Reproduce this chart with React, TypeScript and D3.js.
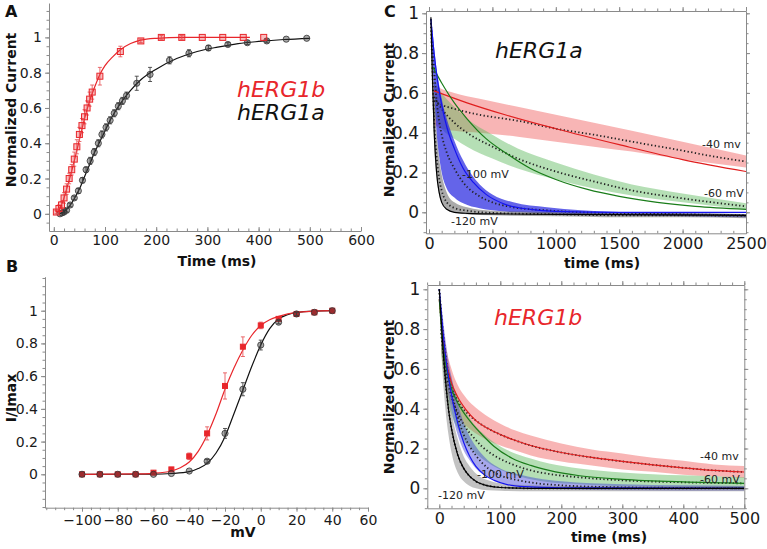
import React, { useEffect, useRef } from "react";
import * as d3 from "d3";

// ---------- Panel A: activation time course ----------
const aTicksX = [0, 100, 200, 300, 400, 500, 600];
const aTicksY = [0, 0.2, 0.4, 0.6, 0.8, 1];

// hERG1b (red squares)
const aRedT = [5, 10, 15, 20, 25, 30, 35, 40, 45, 50, 55, 60, 65, 70, 75, 90, 130, 170, 210, 250, 290, 330, 370, 410];
const aRedV = [0.01, 0.03, 0.05, 0.09, 0.14, 0.2, 0.25, 0.31, 0.38, 0.45, 0.5, 0.55, 0.6, 0.65, 0.69, 0.78, 0.92, 0.98, 1.0, 1.0, 1.0, 1.0, 1.0, 1.0];
const aRedE = [0.01, 0.02, 0.02, 0.03, 0.03, 0.03, 0.03, 0.04, 0.04, 0.04, 0.04, 0.04, 0.04, 0.04, 0.04, 0.05, 0.03, 0.01, 0.01, 0.01, 0.005, 0.005, 0.005, 0.005];
const aRedFitT = [5, 10, 15, 20, 25, 30, 40, 50, 60, 70, 80, 90, 100, 115, 130, 150, 170, 200, 250, 300, 383];
const aRedFitV = [0.005, 0.02, 0.05, 0.09, 0.14, 0.19, 0.3, 0.42, 0.54, 0.64, 0.72, 0.79, 0.84, 0.89, 0.93, 0.965, 0.985, 0.995, 1, 1, 1];

// hERG1a (grey circles)
const aBlkT = [12, 16, 20, 25, 32, 40, 48, 56, 63, 71, 79, 87, 94, 102, 110, 118, 126, 134, 142, 162, 188, 226, 264, 302, 340, 378, 416, 454, 494];
const aBlkV = [0, 0.005, 0.01, 0.02, 0.05, 0.09, 0.13, 0.19, 0.25, 0.3, 0.35, 0.4, 0.45, 0.49, 0.53, 0.57, 0.61, 0.64, 0.67, 0.74, 0.79, 0.87, 0.91, 0.94, 0.96, 0.97, 0.98, 0.99, 0.995];
const aBlkE = [0.005, 0.005, 0.01, 0.01, 0.01, 0.01, 0.015, 0.015, 0.015, 0.02, 0.02, 0.02, 0.02, 0.02, 0.02, 0.02, 0.02, 0.02, 0.02, 0.04, 0.04, 0.02, 0.02, 0.015, 0.01, 0.01, 0.01, 0.005, 0.005];
const aBlkFitT = [10, 20, 30, 40, 50, 60, 70, 80, 90, 100, 110, 120, 135, 150, 170, 200, 240, 280, 320, 360, 400, 450, 500];
const aBlkFitV = [0, 0.012, 0.04, 0.085, 0.14, 0.21, 0.28, 0.35, 0.41, 0.47, 0.53, 0.58, 0.645, 0.7, 0.76, 0.82, 0.88, 0.92, 0.945, 0.965, 0.977, 0.988, 0.995];

// ---------- Panel B: steady-state activation ----------
const bTicksX = [-100, -80, -60, -40, -20, 0, 20, 40, 60];
const bTicksY = [0, 0.2, 0.4, 0.6, 0.8, 1];
const bMV = [-100, -90, -80, -70, -60, -50, -40, -30, -20, -10, 0, 10, 20, 30, 40];
const bRed = [0, 0, 0, 0, 0.01, 0.03, 0.11, 0.25, 0.54, 0.78, 0.91, 0.95, 0.98, 0.99, 1.0];
const bRedE = [0, 0, 0, 0, 0.01, 0.01, 0.02, 0.04, 0.08, 0.06, 0.02, 0.01, 0.01, 0, 0];
const bBlk = [0, 0, 0, 0, 0, 0.005, 0.02, 0.08, 0.25, 0.52, 0.79, 0.93, 0.98, 0.99, 1.0];
const bBlkE = [0, 0, 0, 0, 0, 0, 0, 0.01, 0.03, 0.04, 0.03, 0.01, 0.01, 0, 0];
const bRedFitX = [-100, -70, -60, -50, -45, -40, -35, -30, -25, -20, -15, -10, -5, 0, 5, 10, 20, 30, 40];
const bRedFitY = [0, 0.002, 0.006, 0.02, 0.04, 0.075, 0.14, 0.24, 0.37, 0.52, 0.65, 0.76, 0.85, 0.91, 0.945, 0.965, 0.99, 0.997, 1];
const bBlkFitX = [-100, -60, -50, -40, -35, -30, -25, -20, -15, -10, -5, 0, 5, 10, 15, 20, 30, 40];
const bBlkFitY = [0, 0.001, 0.005, 0.016, 0.035, 0.067, 0.13, 0.23, 0.37, 0.515, 0.66, 0.79, 0.89, 0.95, 0.975, 0.99, 0.998, 1];

// ---------- Panel C (top): hERG1a deactivation ----------
const c1TicksX = [0, 500, 1000, 1500, 2000, 2500];
const cTicksY = [0, 0.2, 0.4, 0.6, 0.8, 1];

const c1RedT = [40, 100, 200, 400, 700, 1000, 1300, 1600, 2000, 2250, 2500];
const c1RedHi = [0.64, 0.62, 0.6, 0.57, 0.53, 0.49, 0.45, 0.41, 0.355, 0.32, 0.285];
const c1RedLo = [0.44, 0.42, 0.41, 0.4, 0.38, 0.355, 0.33, 0.305, 0.265, 0.245, 0.225];
const c1RedMean = [0.56, 0.54, 0.52, 0.49, 0.46, 0.42, 0.39, 0.355, 0.31, 0.28, 0.255];
const c1RedFitT = [40, 300, 600, 1000, 1500, 2000, 2500];
const c1RedFit = [0.61, 0.55, 0.49, 0.42, 0.34, 0.265, 0.205];

const c1GrnT = [40, 100, 200, 300, 500, 700, 1000, 1300, 1600, 2000, 2500];
const c1GrnHi = [0.66, 0.6, 0.53, 0.47, 0.39, 0.32, 0.25, 0.19, 0.14, 0.095, 0.045];
const c1GrnLo = [0.48, 0.42, 0.37, 0.33, 0.27, 0.22, 0.165, 0.12, 0.085, 0.05, 0.015];
const c1GrnMean = [0.58, 0.52, 0.45, 0.4, 0.33, 0.27, 0.205, 0.155, 0.11, 0.07, 0.03];
const c1GrnFitT = [30, 100, 200, 300, 450, 600, 800, 1000, 1250, 1500, 1800, 2100, 2500];
const c1GrnFit = [0.73, 0.65, 0.55, 0.47, 0.37, 0.3, 0.22, 0.165, 0.115, 0.08, 0.05, 0.03, 0.015];

const c1BluT = [15, 30, 45, 60, 80, 100, 140, 200, 270, 400, 500, 665, 930, 1200, 1600, 2000, 2500];
const c1BluHi = [0.98, 0.9, 0.8, 0.72, 0.64, 0.57, 0.47, 0.36, 0.26, 0.14, 0.09, 0.05, 0.025, 0.01, 0.0, -0.005, -0.01];
const c1BluLo = [0.92, 0.72, 0.55, 0.4, 0.28, 0.2, 0.12, 0.075, 0.045, 0.02, 0.01, 0.0, -0.005, -0.01, -0.015, -0.02, -0.025];
const c1BluMean = [0.95, 0.82, 0.68, 0.56, 0.46, 0.39, 0.3, 0.22, 0.15, 0.08, 0.05, 0.025, 0.01, 0.0, -0.005, -0.01, -0.015];
const c1BluFitT = [15, 40, 70, 100, 140, 200, 270, 350, 450, 600, 800, 1000, 1500, 2500];
const c1BluFit = [0.97, 0.8, 0.65, 0.54, 0.43, 0.32, 0.22, 0.15, 0.09, 0.04, 0.015, 0.005, 0, 0];

const c1GryT = [15, 25, 40, 60, 80, 100, 140, 200, 300, 500, 1000, 1500, 2000, 2500];
const c1GryHi = [1.0, 0.85, 0.6, 0.4, 0.27, 0.19, 0.1, 0.05, 0.025, 0.008, 0.0, -0.005, -0.005, -0.008];
const c1GryLo = [0.95, 0.65, 0.35, 0.17, 0.09, 0.05, 0.015, 0.0, -0.01, -0.015, -0.02, -0.025, -0.025, -0.03];
const c1GryMean = [0.97, 0.75, 0.47, 0.28, 0.17, 0.11, 0.05, 0.022, 0.008, -0.003, -0.01, -0.015, -0.015, -0.018];
const c1BlkFitT = [15, 25, 40, 60, 80, 100, 140, 200, 300, 500, 1000, 2500];
const c1BlkFit = [0.98, 0.72, 0.42, 0.2, 0.1, 0.05, 0.015, 0, -0.005, -0.008, -0.01, -0.015];

// ---------- Panel C (bottom): hERG1b deactivation ----------
const c2TicksX = [0, 100, 200, 300, 400, 500];

const c2RedT = [3, 10, 20, 30, 45, 60, 80, 100, 125, 150, 200, 250, 300, 350, 400, 450, 500];
const c2RedMean = [0.8, 0.63, 0.51, 0.44, 0.38, 0.34, 0.3, 0.27, 0.24, 0.215, 0.18, 0.155, 0.135, 0.118, 0.103, 0.09, 0.082];
const c2RedHi = [0.9, 0.73, 0.6, 0.52, 0.45, 0.405, 0.36, 0.325, 0.29, 0.265, 0.225, 0.195, 0.175, 0.153, 0.138, 0.12, 0.112];
const c2RedLo = [0.7, 0.53, 0.42, 0.36, 0.31, 0.275, 0.24, 0.215, 0.19, 0.165, 0.135, 0.115, 0.095, 0.083, 0.068, 0.06, 0.052];
const c2RedFitT = [0, 5, 10, 20, 30, 45, 60, 80, 100, 125, 150, 200, 250, 300, 350, 400, 450, 500];
const c2RedFit = [0.95, 0.78, 0.66, 0.53, 0.46, 0.39, 0.34, 0.3, 0.27, 0.24, 0.215, 0.18, 0.155, 0.135, 0.118, 0.103, 0.09, 0.082];

const c2GrnT = [3, 10, 20, 30, 40, 55, 70, 90, 120, 150, 180, 230, 300, 400, 500];
const c2GrnMean = [0.78, 0.6, 0.46, 0.38, 0.32, 0.26, 0.21, 0.165, 0.12, 0.09, 0.072, 0.055, 0.04, 0.03, 0.025];
const c2GrnHi = [0.88, 0.7, 0.55, 0.46, 0.4, 0.33, 0.28, 0.23, 0.18, 0.15, 0.125, 0.1, 0.08, 0.065, 0.055];
const c2GrnLo = [0.68, 0.5, 0.37, 0.3, 0.24, 0.19, 0.15, 0.11, 0.07, 0.045, 0.03, 0.02, 0.01, 0.005, 0.0];
const c2GrnFitT = [0, 5, 10, 20, 30, 40, 55, 70, 90, 120, 150, 180, 230, 300, 400, 500];
const c2GrnFit = [0.95, 0.75, 0.63, 0.5, 0.43, 0.38, 0.32, 0.27, 0.21, 0.15, 0.115, 0.09, 0.063, 0.045, 0.032, 0.025];

const c2BluT = [0, 5, 10, 15, 20, 30, 40, 50, 60, 80, 100, 130, 160, 200, 300, 400, 500];
const c2BluMean = [1, 0.82, 0.68, 0.57, 0.49, 0.36, 0.27, 0.21, 0.165, 0.1, 0.065, 0.04, 0.025, 0.015, 0.005, 0.002, 0];
const c2BluHi = [1, 0.88, 0.75, 0.64, 0.56, 0.43, 0.33, 0.26, 0.21, 0.14, 0.1, 0.07, 0.05, 0.035, 0.02, 0.015, 0.012];
const c2BluLo = [0.98, 0.74, 0.58, 0.47, 0.39, 0.27, 0.19, 0.14, 0.1, 0.055, 0.03, 0.012, 0.002, -0.005, -0.01, -0.012, -0.012];
const c2BluFitT = [0, 5, 10, 15, 20, 30, 40, 50, 60, 75, 90, 110, 140, 200, 500];
const c2BluFit = [1, 0.82, 0.67, 0.56, 0.47, 0.33, 0.23, 0.16, 0.11, 0.065, 0.04, 0.02, 0.008, 0.002, 0];

const c2GryT = [0, 5, 10, 15, 20, 30, 40, 50, 60, 80, 100, 150, 200, 300, 500];
const c2GryMean = [1, 0.74, 0.54, 0.4, 0.3, 0.17, 0.1, 0.06, 0.035, 0.013, 0.005, 0, 0, 0, 0];
const c2GryHi = [1, 0.82, 0.63, 0.5, 0.39, 0.25, 0.16, 0.11, 0.075, 0.04, 0.025, 0.015, 0.012, 0.01, 0.01];
const c2GryLo = [0.95, 0.6, 0.4, 0.27, 0.18, 0.08, 0.035, 0.012, 0.0, -0.01, -0.012, -0.015, -0.015, -0.015, -0.015];
const c2BlkFitT = [0, 5, 10, 15, 20, 30, 40, 50, 60, 80, 100, 150, 500];
const c2BlkFit = [1, 0.75, 0.55, 0.4, 0.3, 0.17, 0.1, 0.06, 0.035, 0.012, 0.004, 0, 0];

const FONT = "DejaVu Sans";
const RED = "#e8262b";

// scale calibrated on two ticks, stretched over the pixel extent of the axis
const lin = (d0, d1, r0, r1, lo, hi) => {
  const s = d3.scaleLinear().domain([d0, d1]).range([r0, r1]);
  return d3.scaleLinear().domain([s.invert(lo), s.invert(hi)]).range([lo, hi]);
};

const ax = lin(0, 600, 53.8, 361, 49, 361);
const ay = lin(0, 1, 213.8, 37.4, 231, 3);
const bx = lin(-100, 60, 82, 368, 45, 368);
const by = lin(0, 1, 474.3, 310.7, 507.7, 276.7);
const cx1 = lin(0, 2500, 429, 746, 426, 746);
const cy1 = lin(0, 1, 212.3, 13.3, 233.3, 11);
const cx2 = lin(0, 500, 439.3, 744.3, 427.3, 744.3);
const cy2 = lin(0, 1, 488.3, 289.3, 508.3, 285);

const steps = (a, b, s) => d3.range(a, b + s / 2, s).map(v => +v.toFixed(3));

const Axis = ({ scale, orient, at, major, minor, inner = false, labels = true, fmt = d => String(d), size = 14, len = 4, mlen = 2.5, pad = 3, color = "#8a8a8a" }) => {
  const ref = useRef(null);
  useEffect(() => {
    const g = d3.select(ref.current);
    g.selectAll("*").remove();
    const gen = { left: d3.axisLeft, right: d3.axisRight, top: d3.axisTop, bottom: d3.axisBottom }[orient];
    const k = inner ? -1 : 1;
    g.append("g")
      .call(gen(scale).tickValues(minor).tickSizeInner(k * mlen).tickSizeOuter(0).tickFormat(() => ""))
      .call(s => s.select(".domain").remove());
    const m = g.append("g")
      .call(gen(scale).tickValues(major).tickSizeInner(k * len).tickSizeOuter(0).tickPadding(pad).tickFormat(labels ? fmt : () => ""));
    g.selectAll("line").attr("stroke", color);
    m.select(".domain").attr("stroke", color);
    m.selectAll("text").attr("fill", "#1a1a1a").attr("font-size", size).attr("font-family", FONT);
  });
  const tr = orient === "left" || orient === "right" ? `translate(${at},0)` : `translate(0,${at})`;
  return <g ref={ref} transform={tr} />;
};

const path = (xs, ys, sx, sy) =>
  d3.line().x(d => sx(d)).y((d, i) => sy(ys[i])).curve(d3.curveMonotoneX)(xs);

const band = (xs, lo, hi, sx, sy) =>
  d3.area().x(d => sx(d)).y0((d, i) => sy(lo[i])).y1((d, i) => sy(hi[i])).curve(d3.curveMonotoneX)(xs);

const ErrBars = ({ xs, ys, es, sx, sy, color }) => (
  <g stroke={color} strokeWidth={0.9}>
    {xs.map((x, i) =>
      es[i] > 0.006 ? (
        <g key={i}>
          <line x1={sx(x)} x2={sx(x)} y1={sy(ys[i] - es[i])} y2={sy(ys[i] + es[i])} />
          <line x1={sx(x) - 2} x2={sx(x) + 2} y1={sy(ys[i] - es[i])} y2={sy(ys[i] - es[i])} />
          <line x1={sx(x) - 2} x2={sx(x) + 2} y1={sy(ys[i] + es[i])} y2={sy(ys[i] + es[i])} />
        </g>
      ) : null
    )}
  </g>
);

const Squares = ({ xs, ys, sx, sy, s = 6, fill = "rgba(232,38,43,0.3)" }) => (
  <g stroke={RED} strokeWidth={1} fill={fill}>
    {xs.map((x, i) => (
      <rect key={i} x={sx(x) - s / 2} y={sy(ys[i]) - s / 2} width={s} height={s} />
    ))}
  </g>
);

const Circles = ({ xs, ys, sx, sy, r = 3.1 }) => (
  <g stroke="#333" strokeWidth={0.8} fill="rgba(50,50,50,0.42)">
    {xs.map((x, i) => (
      <circle key={i} cx={sx(x)} cy={sy(ys[i])} r={r} />
    ))}
  </g>
);

const Trace = ({ t, lo, hi, fill, sx, sy }) => <path d={band(t, lo, hi, sx, sy)} fill={fill} stroke="none" />;
const Dots = ({ t, v, sx, sy }) => (
  <path d={path(t, v, sx, sy)} fill="none" stroke="#222" strokeWidth={1.8} strokeDasharray="1.3 2.4" />
);
const Fit = ({ t, v, sx, sy, color }) => <path d={path(t, v, sx, sy)} fill="none" stroke={color} strokeWidth={1.2} />;

const Frame = ({ sx, sy, major, minor, size }) => {
  const [x0, x1] = sx.range();
  const [y0, y1] = sy.range();
  return (
    <g>
      <Axis scale={sy} orient="left" at={x0} major={cTicksY} minor={steps(-0.1, 1, 0.05)} size={17} />
      <Axis scale={sy} orient="right" at={x1} major={cTicksY} minor={steps(-0.1, 1, 0.05)} labels={false} />
      <Axis scale={sx} orient="bottom" at={y0} major={major} minor={minor} inner size={size} pad={4} />
      <Axis scale={sx} orient="top" at={y1} major={major} minor={minor} labels={false} />
    </g>
  );
};

const title = { fontFamily: FONT, fontWeight: "bold", fontSize: 14, fill: "#111" };
const small = { fontFamily: FONT, fontSize: 11, fill: "#222" };

export default function App() {
  const clip1 = [cx1.range(), cy1.range()];
  const clip2 = [cx2.range(), cy2.range()];
  return (
    <svg width={767} height={549} style={{ position: "absolute", left: 0, top: 0, background: "#fff" }}>
      <defs>
        <clipPath id="c1">
          <rect x={clip1[0][0]} y={clip1[1][1]} width={clip1[0][1] - clip1[0][0]} height={clip1[1][0] - clip1[1][1]} />
        </clipPath>
        <clipPath id="c2">
          <rect x={clip2[0][0]} y={clip2[1][1]} width={clip2[0][1] - clip2[0][0]} height={clip2[1][0] - clip2[1][1]} />
        </clipPath>
      </defs>

      {/* panel letters */}
      <text x={5} y={17} style={{ ...title, fontSize: 16 }}>A</text>
      <text x={6} y={272} style={{ ...title, fontSize: 16 }}>B</text>
      <text x={384} y={17} style={{ ...title, fontSize: 16 }}>C</text>

      {/* ---- A ---- */}
      <Axis scale={ay} orient="left" at={49} major={aTicksY} minor={steps(-0.05, 1.15, 0.05)} />
      <Axis scale={ax} orient="bottom" at={231} major={aTicksX} minor={steps(0, 600, 20)} inner pad={4} />
      <path d={path(aBlkFitT, aBlkFitV, ax, ay)} fill="none" stroke="#111" strokeWidth={1.2} />
      <path d={path(aRedFitT, aRedFitV, ax, ay)} fill="none" stroke={RED} strokeWidth={1.2} />
      <ErrBars xs={aBlkT} ys={aBlkV} es={aBlkE} sx={ax} sy={ay} color="#444" />
      <Circles xs={aBlkT} ys={aBlkV} sx={ax} sy={ay} />
      <ErrBars xs={aRedT} ys={aRedV} es={aRedE} sx={ax} sy={ay} color="#e85a5e" />
      <Squares xs={aRedT} ys={aRedV} sx={ax} sy={ay} />
      <text x={237} y={97} style={{ fontFamily: FONT, fontStyle: "italic", fontSize: 22, fill: RED }}>hERG1b</text>
      <text x={237} y={120} style={{ fontFamily: FONT, fontStyle: "italic", fontSize: 22, fill: "#111" }}>hERG1a</text>
      <text transform="translate(16,110) rotate(-90)" textAnchor="middle" style={title}>Normalized Current</text>
      <text x={217} y={266} textAnchor="middle" style={title}>Time (ms)</text>

      {/* ---- B ---- */}
      <Axis scale={by} orient="left" at={45} major={bTicksY} minor={steps(-0.2, 1.2, 0.05)} />
      <Axis scale={bx} orient="bottom" at={507.7} major={bTicksX} minor={steps(-120, 60, 5)} fmt={d3.format("d")} />
      <path d={path(bBlkFitX, bBlkFitY, bx, by)} fill="none" stroke="#111" strokeWidth={1.2} />
      <path d={path(bRedFitX, bRedFitY, bx, by)} fill="none" stroke={RED} strokeWidth={1.2} />
      <ErrBars xs={bMV} ys={bRed} es={bRedE} sx={bx} sy={by} color="#e85a5e" />
      <Squares xs={bMV} ys={bRed} sx={bx} sy={by} s={5} fill={RED} />
      <ErrBars xs={bMV} ys={bBlk} es={bBlkE} sx={bx} sy={by} color="#444" />
      <Circles xs={bMV} ys={bBlk} sx={bx} sy={by} />
      <text transform="translate(16,398) rotate(-90)" textAnchor="middle" style={title}>I/Imax</text>
      <text x={243} y={537} textAnchor="middle" style={title}>mV</text>

      {/* ---- C top: hERG1a ---- */}
      <g clipPath="url(#c1)">
        <Trace t={c1RedT} lo={c1RedLo} hi={c1RedHi} fill="rgba(240,90,90,0.45)" sx={cx1} sy={cy1} />
        <Trace t={c1GrnT} lo={c1GrnLo} hi={c1GrnHi} fill="rgba(90,185,90,0.45)" sx={cx1} sy={cy1} />
        <Trace t={c1BluT} lo={c1BluLo} hi={c1BluHi} fill="rgba(40,40,225,0.72)" sx={cx1} sy={cy1} />
        <Trace t={c1GryT} lo={c1GryLo} hi={c1GryHi} fill="rgba(100,100,100,0.55)" sx={cx1} sy={cy1} />
        <Dots t={c1RedT} v={c1RedMean} sx={cx1} sy={cy1} />
        <Dots t={c1GrnT} v={c1GrnMean} sx={cx1} sy={cy1} />
        <Dots t={c1BluT} v={c1BluMean} sx={cx1} sy={cy1} />
        <Dots t={c1GryT} v={c1GryMean} sx={cx1} sy={cy1} />
        <Fit t={c1RedFitT} v={c1RedFit} sx={cx1} sy={cy1} color="#e01e1e" />
        <Fit t={c1GrnFitT} v={c1GrnFit} sx={cx1} sy={cy1} color="#1a7d1a" />
        <Fit t={c1BluFitT} v={c1BluFit} sx={cx1} sy={cy1} color="#1414f0" />
        <Fit t={c1BlkFitT} v={c1BlkFit} sx={cx1} sy={cy1} color="#000" />
      </g>
      <Frame sx={cx1} sy={cy1} major={c1TicksX} minor={steps(0, 2500, 100)} size={16} />
      <text x={495} y={58} style={{ fontFamily: FONT, fontStyle: "italic", fontSize: 22, fill: "#111" }}>hERG1a</text>
      <text x={702} y={148} style={small}>-40 mv</text>
      <text x={704} y={197} style={small}>-60 mV</text>
      <text x={462} y={178} style={small}>-100 mV</text>
      <text x={451} y={225} style={small}>-120 mV</text>
      <text transform="translate(394,120) rotate(-90)" textAnchor="middle" style={title}>Normalized Current</text>
      <text x={602} y={268} textAnchor="middle" style={title}>time (ms)</text>

      {/* ---- C bottom: hERG1b ---- */}
      <g clipPath="url(#c2)">
        <Trace t={c2RedT} lo={c2RedLo} hi={c2RedHi} fill="rgba(240,90,90,0.45)" sx={cx2} sy={cy2} />
        <Trace t={c2GrnT} lo={c2GrnLo} hi={c2GrnHi} fill="rgba(90,185,90,0.45)" sx={cx2} sy={cy2} />
        <Trace t={c2BluT} lo={c2BluLo} hi={c2BluHi} fill="rgba(60,60,215,0.45)" sx={cx2} sy={cy2} />
        <Trace t={c2GryT} lo={c2GryLo} hi={c2GryHi} fill="rgba(120,120,120,0.45)" sx={cx2} sy={cy2} />
        <Dots t={c2RedT} v={c2RedMean} sx={cx2} sy={cy2} />
        <Dots t={c2GrnT} v={c2GrnMean} sx={cx2} sy={cy2} />
        <Dots t={c2BluT} v={c2BluMean} sx={cx2} sy={cy2} />
        <Dots t={c2GryT} v={c2GryMean} sx={cx2} sy={cy2} />
        <Fit t={c2RedFitT} v={c2RedFit} sx={cx2} sy={cy2} color="#e01e1e" />
        <Fit t={c2GrnFitT} v={c2GrnFit} sx={cx2} sy={cy2} color="#1a7d1a" />
        <Fit t={c2BluFitT} v={c2BluFit} sx={cx2} sy={cy2} color="#1414f0" />
        <Fit t={c2BlkFitT} v={c2BlkFit} sx={cx2} sy={cy2} color="#000" />
      </g>
      <Frame sx={cx2} sy={cy2} major={c2TicksX} minor={steps(-20, 500, 20)} size={16} />
      <text x={494} y={325} style={{ fontFamily: FONT, fontStyle: "italic", fontSize: 22, fill: RED }}>hERG1b</text>
      <text x={700} y={460} style={small}>-40 mv</text>
      <text x={700} y={483} style={small}>-60 mV</text>
      <text x={477} y={478} style={small}>-100 mV</text>
      <text x={438} y={499} style={small}>-120 mV</text>
      <text transform="translate(394,397) rotate(-90)" textAnchor="middle" style={title}>Normalized Current</text>
      <text x={609} y={542} textAnchor="middle" style={title}>time (ms)</text>
    </svg>
  );
}
